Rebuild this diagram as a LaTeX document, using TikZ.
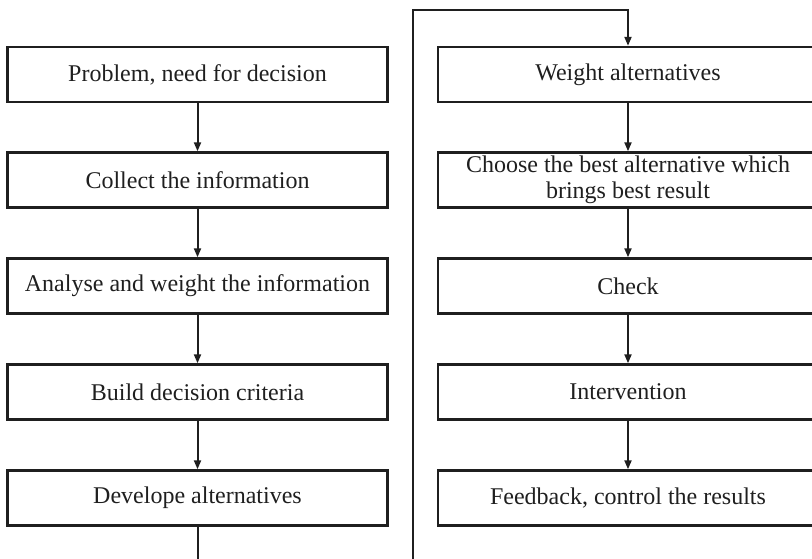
\documentclass[tikz,border=0pt]{standalone}
\usepackage{fontspec}
\setmainfont{Liberation Serif}
\usetikzlibrary{arrows.meta}
\begin{document}
\begin{tikzpicture}[x=1pt,y=-1pt,
  box/.style={draw=black!88, line width=2.4pt, minimum width=380pt, minimum height=55pt,
    inner sep=0pt, font=\fontsize{24}{26.5}\selectfont, align=center, text=black!88},
  conn/.style={line width=2pt, draw=black!88, -{Triangle[length=9pt,width=7pt]}},
  plain/.style={line width=2pt, draw=black!88}]
\useasboundingbox (0,0) rectangle (812,559);
\clip (0,0) rectangle (812,559);
\node[box] (a1) at (197.5,74.5) {Problem, need for decision};
\node[box] (a2) at (197.5,180) {Collect the information};
\node[box] (a3) at (197.5,286) {Analyse and weight the information};
\node[box] (a4) at (197.5,392) {Build decision criteria};
\node[box] (a5) at (197.5,498) {Develope alternatives};
\node[box] (b1) at (628,74.5) {Weight alternatives};
\node[box] (b2) at (628,180) {Choose the best alternative which\\brings best result};
\node[box] (b3) at (628,286) {Check};
\node[box] (b4) at (628,392) {Intervention};
\node[box] (b5) at (628,498) {Feedback, control the results};
\coordinate (e1) at (197.5,565);
\coordinate (s2) at (413,565);
\coordinate (t2) at (628,10);
\draw[conn] (a1) -- (a2);
\draw[conn] (a2) -- (a3);
\draw[conn] (a3) -- (a4);
\draw[conn] (a4) -- (a5);
\draw[plain] (a5) -- (e1);
\draw[conn] (s2) |- (t2) -- (b1);
\draw[conn] (b1) -- (b2);
\draw[conn] (b2) -- (b3);
\draw[conn] (b3) -- (b4);
\draw[conn] (b4) -- (b5);
\end{tikzpicture}
\end{document}
